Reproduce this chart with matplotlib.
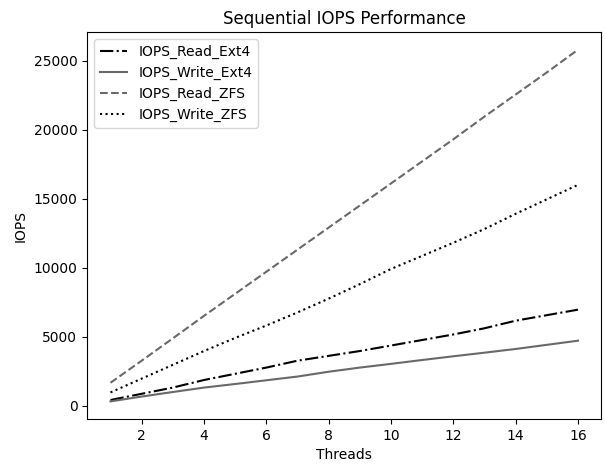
import matplotlib
matplotlib.use("Agg")
import matplotlib.pyplot as plt

threads = list(range(1, 17))
iops_read_ext4 = [400, 850, 1300, 1850, 2300, 2750, 3250, 3600, 3950, 4350, 4750, 5150, 5600, 6150, 6550, 6950]
iops_write_ext4 = [300, 650, 980, 1300, 1560, 1830, 2100, 2450, 2750, 3020, 3300, 3570, 3830, 4100, 4400, 4700]
iops_read_zfs = [1650, 3250, 4870, 6500, 8100, 9700, 11300, 12900, 14500, 16100, 17700, 19300, 20950, 22550, 24150, 25800]
iops_write_zfs = [950, 1950, 2950, 3950, 4900, 5800, 6750, 7750, 8800, 9900, 10850, 11800, 12800, 13900, 14950, 16000]

fig, ax = plt.subplots(figsize=(6.05, 4.65), dpi=100)
ax.plot(threads, iops_read_ext4, '-.', color='black', label='IOPS_Read_Ext4')
ax.plot(threads, iops_write_ext4, '-', color='dimgray', label='IOPS_Write_Ext4')
ax.plot(threads, iops_read_zfs, '--', color='dimgray', label='IOPS_Read_ZFS')
ax.plot(threads, iops_write_zfs, ':', color='black', label='IOPS_Write_ZFS')

ax.set_title('Sequential IOPS Performance')
ax.set_xlabel('Threads')
ax.set_ylabel('IOPS')
ax.legend(loc='upper left')
plt.subplots_adjust(left=0.144, right=0.994, bottom=0.099, top=0.931)
plt.savefig('out.png')
